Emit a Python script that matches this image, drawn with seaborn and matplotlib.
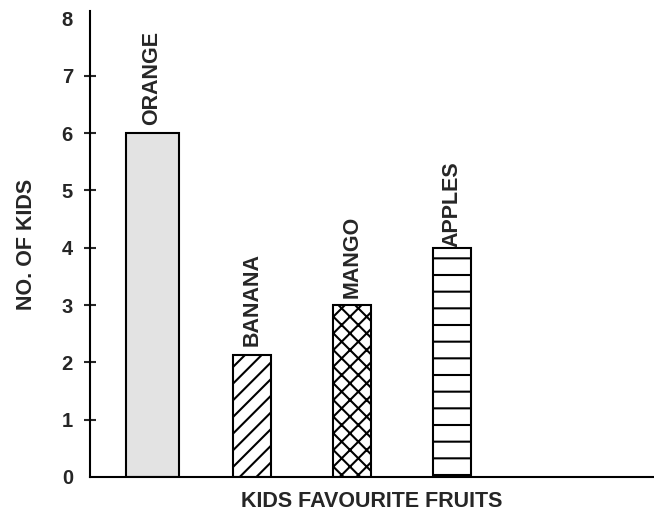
# ======================
# Import Libraries
# ======================

import numpy as np
import pandas as pd
import matplotlib.pyplot as plt
import seaborn as sns

# ======================
# Data
# ======================

fruits = ["ORANGE", "BANANA", "MANGO", "APPLES"]
kids = [6, 2.12, 3, 4]
y_ticks = [0, 1, 2, 3, 4, 5, 6, 7, 8]

# ======================
# Style
# ======================

bar_widths = [0.53, 0.38, 0.38, 0.38]
bar_fills = ["#e3e3e3", "white", "white", "white"]
bar_hatches = ["", "//", "xx", "-"]
label_gaps = [0.14, 0.17, 0.12, 0.02]

sns.set_style("white")
plt.rcParams['font.family'] = ['Liberation Sans', 'DejaVu Sans']
plt.rcParams['font.weight'] = 'bold'
plt.rcParams['hatch.linewidth'] = 1.5

df = pd.DataFrame({"fruit": fruits, "kids": kids})

# ======================
# Plot
# ======================

fig = plt.figure(figsize=(6.54, 5.14), dpi=100)
ax = fig.add_axes([90 / 654, 37 / 514, 1 - 90 / 654, (477 - 11) / 514])

sns.barplot(data=df, x="fruit", y="kids", color="white",
            edgecolor="black", linewidth=1.5, width=0.38,
            saturation=1, ax=ax)

for i, patch in enumerate(ax.patches):
    c = patch.get_x() + patch.get_width() / 2
    patch.set_width(bar_widths[i])
    patch.set_x(c - bar_widths[i] / 2)
    patch.set_facecolor(bar_fills[i])
    patch.set_hatch(bar_hatches[i])
    ax.text(c, kids[i] + label_gaps[i], fruits[i], rotation=90,
            ha="center", va="bottom", fontsize=15.5, fontweight="bold")

ax.set_xlim(-0.62, 5.02)
ax.set_ylim(0, 8.13)
ax.set_yticks(y_ticks)
ax.set_xticks([])

for s in ["top", "right"]:
    ax.spines[s].set_visible(False)
for s in ["left", "bottom"]:
    ax.spines[s].set_color("black")
    ax.spines[s].set_linewidth(1.5)

ax.tick_params(axis="y", direction="inout", length=8.5, width=1.5,
               pad=8, labelsize=14.5, left=True)
ax.yaxis.get_major_ticks()[-1].tick1line.set_visible(False)
ax.yaxis.get_major_ticks()[0].tick1line.set_visible(False)

ax.set_xlabel("KIDS FAVOURITE FRUITS", fontsize=15.5, fontweight="bold",
              labelpad=10)
ax.set_ylabel("NO. OF KIDS", fontsize=15.5, fontweight="bold", labelpad=18)

plt.savefig("out.png", dpi=100)
